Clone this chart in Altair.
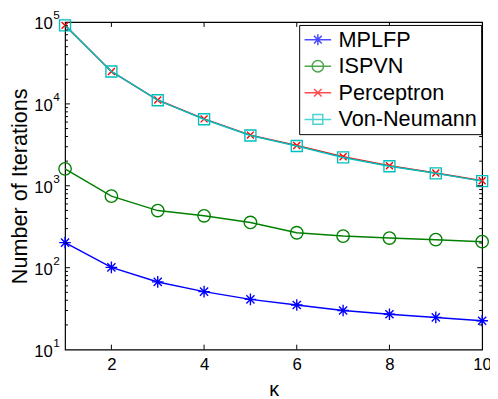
import altair as alt
import pandas as pd

kappa = [1, 2, 3, 4, 5, 6, 7, 8, 9, 10]
mplfp = [202, 101, 67, 51, 41, 35, 30, 27, 24.7, 22.5]
ispvn = [1610, 748, 498, 430, 357, 267, 243, 230, 220, 208]
perceptron = [91000, 24900, 11150, 6560, 4160, 3100, 2260, 1760, 1430, 1150]
von_neumann = [91000, 24900, 11100, 6500, 4110, 3060, 2220, 1730, 1420, 1140]

series_names = ["MPLFP", "ISPVN", "Perceptron", "Von-Neumann"]
series_values = [mplfp, ispvn, perceptron, von_neumann]
colors = ["#0000FF", "#008000", "#FF0000", "#00BFBF"]

y_major = [100, 1000, 10000]
y_minor = [m * d for d in [10, 100, 1000, 10000] for m in range(2, 10)]
y_label_values = [10, 100, 1000, 10000, 100000]
y_exponents = ["1", "2", "3", "4", "5"]
x_major = [2, 4, 6, 8]

W, H = 424, 333
FONT = "Liberation Sans"

rows = []
for name, vals in zip(series_names, series_values):
    for k, v in zip(kappa, vals):
        rows.append({"k": k, "value": v, "series": name})
df = pd.DataFrame(rows)

xs = alt.Scale(domain=[1, 10], nice=False)
ys = alt.Scale(type="log", domain=[10, 100000], nice=False)

X = alt.X("k:Q", scale=xs, title="κ",
          axis=alt.Axis(values=[2, 4, 6, 8, 10], ticks=False, domain=False, grid=False,
                        labelFlush=False, labelOverlap=False, labelBound=False,
                        labelFontSize=17, labelPadding=7, labelColor="#000",
                        titleFontSize=20, titleFontWeight="normal", titlePadding=8,
                        titleColor="#000", labelFont=FONT, titleFont=FONT))
Y = alt.Y("value:Q", scale=ys, title="Number of Iterations",
          axis=alt.Axis(values=y_label_values, ticks=False, domain=False,
                        grid=False, labelFlush=False, labelOverlap=False, labelBound=False,
                        labelExpr="'10'",
                        labelFontSize=17, labelPadding=13, labelOffset=2, labelColor="#000",
                        titleFontSize=22, titleFontWeight="normal", titlePadding=2,
                        titleColor="#000", labelFont=FONT, titleFont=FONT))

marker_shapes = {
    "MPLFP": ("M-1,0H1M0,-1V1M-0.7,-0.7L0.7,0.7M-0.7,0.7L0.7,-0.7", 140),
    "ISPVN": ("circle", 160),
    "Perceptron": ("M-1,-1L1,1M-1,1L1,-1", 50),
    "Von-Neumann": ("square", 125),
}

layers = []
for name, col in zip(series_names, colors):
    sub = df[df.series == name]
    base = alt.Chart(sub)
    layers.append(base.mark_line(color=col, strokeWidth=1.5).encode(x=X, y=Y))
    shp, sz = marker_shapes[name]
    layers.append(base.mark_point(shape=shp, size=sz, filled=False, color=col,
                                  strokeWidth=1.4, opacity=1).encode(x=X, y=Y))

# inward ticks (MATLAB box style)
ymaj = pd.DataFrame({"value": y_major})
ymin = pd.DataFrame({"value": y_minor})
xmaj = pd.DataFrame({"k": x_major})
tick_style = dict(color="#000", strokeWidth=1)
layers += [
    alt.Chart(ymaj).mark_rule(**tick_style).encode(y=Y, x=alt.value(0), x2=alt.value(5)),
    alt.Chart(ymaj).mark_rule(**tick_style).encode(y=Y, x=alt.value(W), x2=alt.value(W - 5)),
    alt.Chart(ymin).mark_rule(**tick_style).encode(y=Y, x=alt.value(0), x2=alt.value(3)),
    alt.Chart(ymin).mark_rule(**tick_style).encode(y=Y, x=alt.value(W), x2=alt.value(W - 3)),
    alt.Chart(xmaj).mark_rule(**tick_style).encode(x=X, y=alt.value(0), y2=alt.value(5)),
    alt.Chart(xmaj).mark_rule(**tick_style).encode(x=X, y=alt.value(H), y2=alt.value(H - 5)),
]

# exponents of the y tick labels (10^n)
exp_df = pd.DataFrame({"value": y_label_values, "exp": y_exponents})
layers.append(
    alt.Chart(exp_df).mark_text(align="left", baseline="middle", fontSize=12, font=FONT,
                                color="#000", dy=-7).encode(
        y=Y, x=alt.value(-12), text="exp:N")
)

# legend symbols: line + marker, drawn wider than the layout box
legend_paths = [
    "M-1.35,0H1.35M0,-0.55V0.55M-0.39,-0.39L0.39,0.39M-0.39,0.39L0.39,-0.39",
    "M-1.35,0H1.35M-0.58,0A0.58,0.58,0,1,0,0.58,0A0.58,0.58,0,1,0,-0.58,0",
    "M-1.35,0H1.35M-0.38,-0.38L0.38,0.38M-0.38,0.38L0.38,-0.38",
    "M-1.35,0H1.35M-0.5,-0.5H0.5V0.5H-0.5Z",
]
legend_layer = alt.Chart(df).transform_filter("false").mark_point(filled=False, strokeWidth=1.5).encode(
    x=X, y=Y,
    color=alt.Color("series:N", scale=alt.Scale(domain=series_names, range=colors),
                    legend=alt.Legend(title=None, orient="none", legendX=238, legendY=3,
                                      labelFontSize=22, labelFont=FONT, labelColor="#000",
                                      symbolSize=400, symbolStrokeWidth=1.5, symbolOffset=4,
                                      labelOffset=10, rowPadding=5, padding=4,
                                      fillColor="white", strokeColor="#000",
                                      labelLimit=400)),
    shape=alt.Shape("series:N", scale=alt.Scale(domain=series_names, range=legend_paths)),
)
layers.append(legend_layer)

chart = alt.layer(*layers).properties(
    width=W, height=H,
    autosize=alt.AutoSizeParams(type="none"),
    padding={"left": 58, "top": 11, "right": 8, "bottom": 47},
    background="white",
).configure_view(stroke="#000", strokeWidth=1.2)

chart.save("out.html", embed_options={"renderer": "svg", "actions": False})
